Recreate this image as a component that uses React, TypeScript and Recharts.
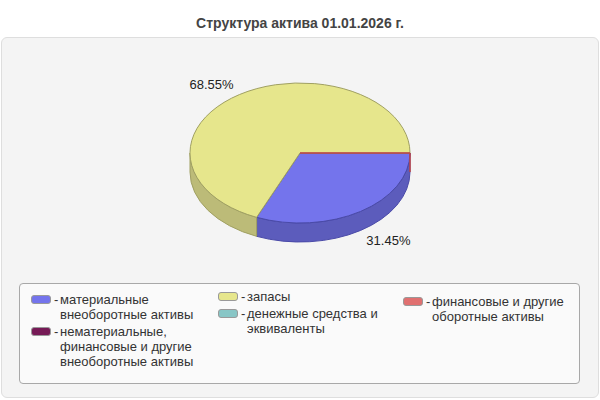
import React from "react";
import { PieChart, Pie, Legend } from "recharts";

const TITLE = "Структура актива 01.01.2026 г.";

// categories in legend / pie order
const categories = [
  "материальные\nвнеоборотные активы",
  "нематериальные,\nфинансовые и другие\nвнеоборотные активы",
  "запасы",
  "денежные средства и\nэквиваленты",
  "финансовые и другие\nоборотные активы",
];

// shares of the total, %
const shares = [31.45, 0, 68.55, 0, 0.003];

// which legend column each category sits in
const legendColumns = [0, 0, 1, 1, 2];

const COLORS = ["#7474ec", "#761a56", "#e6e68c", "#88c6c6", "#e07070"];
const SIDE_COLORS = ["#5c5cbc", "#5a1442", "#bcbb78", "#6a9e9e", "#b85a5a"];
const STROKES = ["#4a4aa8", "#4a0e36", "#a0a062", "#5a8c8c", "#c04444"];

const data = categories.map((name, i) => ({ name, value: shares[i] }));

const FONT = "'Liberation Sans', Arial, sans-serif";
const TILT = 70 / 110;
const DEPTH = 19;
const RAD = Math.PI / 180;

function pt(cx: number, cy: number, rx: number, ry: number, a: number, dy = 0) {
  return `${cx + rx * Math.cos(a * RAD)},${cy - ry * Math.sin(a * RAD) + dy}`;
}

function Slice3D(props: any) {
  const { cx, cy, outerRadius, startAngle, endAngle, index } = props;
  if (Math.abs(endAngle - startAngle) < 1e-9) return null;
  const rx = outerRadius;
  const ry = outerRadius * TILT;
  const lo = Math.min(startAngle, endAngle);
  const hi = Math.max(startAngle, endAngle);

  // front (visible) parts of the rim
  const sides: string[] = [];
  for (let k = -2; k <= 1; k++) {
    const s = Math.max(lo, -180 + 360 * k);
    const e = Math.min(hi, 360 * k);
    if (s <= e) {
      sides.push(
        `M${pt(cx, cy, rx, ry, s)} A${rx},${ry} 0 0 0 ${pt(cx, cy, rx, ry, e)}` +
          ` L${pt(cx, cy, rx, ry, e, DEPTH)} A${rx},${ry} 0 0 1 ${pt(cx, cy, rx, ry, s, DEPTH)} Z`
      );
    }
  }

  const large = hi - lo > 180 ? 1 : 0;
  const sweep = endAngle < startAngle ? 1 : 0;
  const top =
    `M${cx},${cy} L${pt(cx, cy, rx, ry, startAngle)}` +
    ` A${rx},${ry} 0 ${large} ${sweep} ${pt(cx, cy, rx, ry, endAngle)} Z`;

  return (
    <g>
      {sides.map((d, i) => (
        <path key={i} d={d} fill={SIDE_COLORS[index]} stroke={STROKES[index]} strokeWidth={1} />
      ))}
      <path d={top} fill={COLORS[index]} stroke={STROKES[index]} strokeWidth={1} />
    </g>
  );
}

function renderLabel(props: any) {
  const { cx, cy, midAngle, outerRadius, percent } = props;
  if (percent < 0.01) return null;
  const rx = outerRadius;
  const ry = outerRadius * TILT;
  const s = Math.sin(midAngle * RAD);
  const x = cx + Math.cos(midAngle * RAD) * rx * 1.46;
  const y = cy - s * ry * 1.17 + (s < 0 ? DEPTH : 0);
  return (
    <text
      x={x}
      y={y}
      textAnchor="middle"
      dominantBaseline="central"
      fontSize={13}
      fontFamily={FONT}
      fill="#222"
    >
      {(percent * 100).toFixed(2)}%
    </text>
  );
}

const colLeft = [11, 198, 383];
const colTop = [8, 5, 10];

function renderLegend() {
  return (
    <div
      style={{
        position: "relative",
        width: 561,
        height: 101,
        boxSizing: "border-box",
        border: "1px solid #a8a8a8",
        borderRadius: 4,
        background: "#fafafa",
        fontFamily: FONT,
        fontSize: 13,
        color: "#333",
      }}
    >
      {[0, 1, 2].map((col) => (
        <div key={col} style={{ position: "absolute", left: colLeft[col], top: colTop[col] }}>
          {categories.map((name, i) =>
            legendColumns[i] !== col ? null : (
              <div key={i} style={{ position: "relative", marginBottom: 1.5, lineHeight: "15px" }}>
                <span
                  style={{
                    position: "absolute",
                    left: 0,
                    top: 3,
                    width: 20,
                    height: 9,
                    boxSizing: "border-box",
                    borderRadius: 3,
                    border: "1px solid #999",
                    background: COLORS[i],
                  }}
                />
                <span style={{ position: "absolute", left: 23, top: 0 }}>-</span>
                <div style={{ marginLeft: 29, whiteSpace: "pre-line" }}>{name}</div>
              </div>
            )
          )}
        </div>
      ))}
    </div>
  );
}

export default function App() {
  return (
    <div
      style={{
        position: "absolute",
        left: 0,
        top: 0,
        width: 600,
        height: 400,
        background: "#fff",
        fontFamily: FONT,
      }}
    >
      <div
        style={{
          position: "absolute",
          top: 15,
          width: 600,
          textAlign: "center",
          fontWeight: "bold",
          fontSize: 14,
          color: "#444",
        }}
      >
        {TITLE}
      </div>
      <div
        style={{
          position: "absolute",
          left: 1,
          top: 37,
          width: 598,
          height: 361,
          boxSizing: "border-box",
          border: "1px solid #dedede",
          borderRadius: 6,
          background: "#f4f4f4",
        }}
      />
      <div style={{ position: "absolute", left: 0, top: 0 }}>
        <PieChart width={600} height={400} margin={{ top: 0, right: 0, bottom: 0, left: 0 }}>
          <Pie
            data={data}
            dataKey="value"
            nameKey="name"
            cx={300}
            cy={153}
            outerRadius={110}
            startAngle={0}
            endAngle={-360}
            isAnimationActive={false}
            shape={Slice3D}
            activeShape={Slice3D}
            inactiveShape={Slice3D}
            label={renderLabel}
            labelLine={false}
          />
          <Legend
            content={renderLegend}
            width={561}
            height={101}
            verticalAlign="bottom"
            wrapperStyle={{ left: 19, top: 283, width: 561, height: 101 }}
          />
        </PieChart>
      </div>
    </div>
  );
}
